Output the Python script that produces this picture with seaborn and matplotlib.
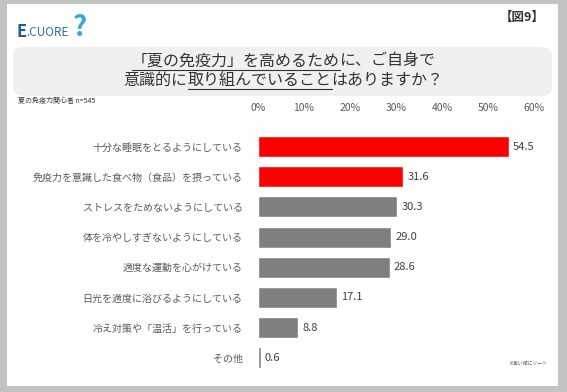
import matplotlib
matplotlib.use("Agg")
import matplotlib.pyplot as plt
from matplotlib.patches import Rectangle, FancyBboxPatch
from matplotlib.lines import Line2D
import seaborn as sns
import pandas as pd

# data
categories = ['十分な睡眠をとるようにしている',
              '免疫力を意識した食べ物（食品）を摂っている',
              'ストレスをためないようにしている',
              '体を冷やしすぎないようにしている',
              '適度な運動を心がけている',
              '日光を適度に浴びるようにしている',
              '冷え対策や「温活」を行っている',
              'その他']
values = [54.5, 31.6, 30.3, 29.0, 28.6, 17.1, 8.8, 0.6]
highlight = [True, True, False, False, False, False, False, False]
x_ticks = [0, 10, 20, 30, 40, 50, 60]

sns.set_style("white")
plt.rcParams['font.family'] = ['Noto Sans CJK JP', 'DejaVu Sans']

W, H = 567, 392
fig = plt.figure(figsize=(W / 100, H / 100), dpi=100)
fig.patch.set_facecolor('#c3c3c3')


def fx(px):
    return px / W


def fy(py):
    return 1 - py / H


# white panel
fig.patches.append(Rectangle((fx(7), fy(386)), fx(551), (386 - 4) / H,
                             transform=fig.transFigure, facecolor='white',
                             edgecolor='none', zorder=-2))
# grey title box
fig.patches.append(FancyBboxPatch((fx(13), fy(96)), fx(539), 49 / H,
                                  boxstyle="round,pad=0,rounding_size=0.02",
                                  transform=fig.transFigure, facecolor='#f0f0f0',
                                  edgecolor='none', zorder=-1))

df = pd.DataFrame({'item': categories, 'value': values})
palette = {c: ('#ff0000' if h else '#7f7f7f') for c, h in zip(categories, highlight)}

ax = fig.add_axes([fx(258), 1 - 373 / H, (534 - 258) / W, 241.6 / H])
ax.set_zorder(2)
ax.set_facecolor('none')
sns.barplot(data=df, x='value', y='item', hue='item', palette=palette,
            legend=False, orient='h', width=0.7, saturation=1, ax=ax)
ax.set_xlim(0, 60)
ax.set_ylim(7.5, -0.5)
ax.set_xticks(x_ticks)
ax.set_xticklabels([f'{t}%' for t in x_ticks])
ax.xaxis.tick_top()
ax.tick_params(axis='x', length=0, pad=13, labelsize=7.5, labelcolor='#595959')
ax.tick_params(axis='y', length=0, pad=11, labelsize=7.2, labelcolor='#595959')
ax.set_xlabel('')
ax.set_ylabel('')
for s in ax.spines.values():
    s.set_visible(False)

for i, v in enumerate(values):
    ax.annotate(f'{v:.1f}', (v, i), xytext=(3, 0), textcoords='offset points',
                va='center', ha='left', fontsize=8, color='#404040')

# header texts
fig.text(fx(17), fy(32), 'E', fontsize=12, fontweight='bold', color='#1f5d9c',
         va='center', ha='left')
fig.text(fx(26), fy(33), '.CUORE', fontsize=8.5, color='#2e6fae',
         va='center', ha='left')
fig.text(fx(80), fy(28), '?', fontsize=20, fontweight='bold', color='#3aa6dc',
         va='center', ha='center')
fig.text(fx(545), fy(17), '【図9】', fontsize=9, fontweight='bold', color='#333333',
         va='center', ha='right')
fig.text(fx(18), fy(101), '夏の免疫力関心者 n=545', fontsize=5, color='#333333',
         va='center', ha='left')
fig.text(fx(547), fy(363), '※高い順にソート', fontsize=3.5, color='#555555',
         va='center', ha='right')

# title with underlined parts
title_lines = [[('「夏の免疫力」を高めるため', True), ('に、ご自身で', False)],
               [('意識的に', False), ('取り組んでいること', True), ('はありますか？', False)]]
title_y = [61, 80]
renderer = fig.canvas.get_renderer()
for parts, yline in zip(title_lines, title_y):
    texts = []
    widths = []
    for s, u in parts:
        t = fig.text(0, fy(yline), s, fontsize=11.5, color='#333333',
                     va='center', ha='left', zorder=3)
        bb = t.get_window_extent(renderer)
        texts.append(t)
        widths.append(bb.width)
    total = sum(widths)
    x0 = W / 2 - total / 2
    for t, w, (s, u) in zip(texts, widths, parts):
        t.set_x(fx(x0))
        if u:
            fig.lines.append(Line2D([fx(x0), fx(x0 + w)], [fy(yline + 9), fy(yline + 9)],
                                    transform=fig.transFigure, color='#333333',
                                    linewidth=0.8, zorder=3))
        x0 += w

fig.savefig('out.png', dpi=100, facecolor=fig.get_facecolor())
